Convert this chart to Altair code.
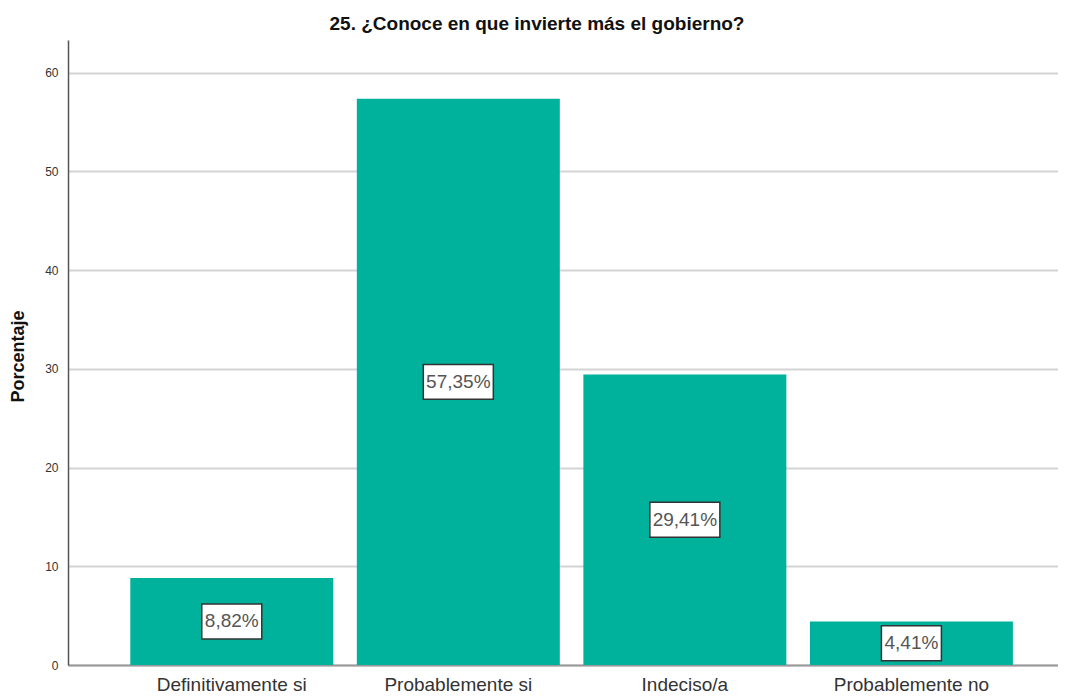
import altair as alt
import pandas as pd

categories = ["Definitivamente si", "Probablemente si", "Indeciso/a", "Probablemente no"]
percentages = [8.82, 57.35, 29.41, 4.41]
labels = ["8,82%", "57,35%", "29,41%", "4,41%"]

df = pd.DataFrame({"cat": categories, "pct": percentages, "label": labels})

FONT = "Liberation Sans, Arial, sans-serif"
TEAL = "#00B19C"

xscale = alt.Scale(paddingInner=0.104, paddingOuter=0.237, align=0.58)
yscale = alt.Scale(domain=[0, 63.3], nice=False)

xaxis = alt.Axis(title=None, labelAngle=0, labelFontSize=19, labelColor="#333",
                 labelFont=FONT, ticks=False, domainColor="#999", domainWidth=2,
                 labelPadding=10, grid=False)
yaxis = alt.Axis(title="Porcentaje", values=[0, 10, 20, 30, 40, 50, 60],
                 labelFontSize=12, labelColor="#333", labelFont=FONT,
                 ticks=False, labelPadding=10, domainColor="#555", domainWidth=1.5,
                 gridColor="#d4d4d4", gridWidth=2,
                 titleFont=FONT, titleFontSize=18, titleFontWeight="bold",
                 titleColor="#111", titleAngle=-90, titleX=-50, titleY=316,
                 titleAlign="center", titleBaseline="middle")

base = alt.Chart(df).transform_calculate(
    mid="datum.pct / 2",
    lo="datum.pct / 2 - 1.77",
    hi="datum.pct / 2 + 1.77",
    w="length(datum.label) * 10 + 10",
)

xenc = alt.X("cat:N", sort=categories, scale=xscale, axis=xaxis)

bars = base.mark_bar(color=TEAL).encode(
    x=xenc,
    y=alt.Y("pct:Q", scale=yscale, axis=yaxis),
)

boxes = base.mark_bar(color="white", stroke="#333", strokeWidth=1.5).encode(
    x=xenc,
    y=alt.Y("lo:Q", scale=yscale, axis=yaxis),
    y2="hi:Q",
    size=alt.Size("w:Q", scale=None, legend=None),
)

texts = base.mark_text(font=FONT, fontSize=19, color="#555", baseline="middle", align="center").encode(
    x=xenc,
    y=alt.Y("mid:Q", scale=yscale, axis=yaxis),
    text="label:N",
)

chart = alt.layer(bars, boxes, texts).properties(
    width=990,
    height=625,
    title=alt.TitleParams(
        "25. ¿Conoce en que invierte más el gobierno?",
        font=FONT, fontSize=19, fontWeight="bold", color="#111",
        anchor="middle", dx=-26, offset=6,
    ),
    autosize=alt.AutoSizeParams(type="none"),
    padding={"left": 60, "top": 32, "right": 0, "bottom": 35},
).configure_view(stroke=None)

chart.save("out.html", embed_options={"renderer": "svg", "actions": False})
